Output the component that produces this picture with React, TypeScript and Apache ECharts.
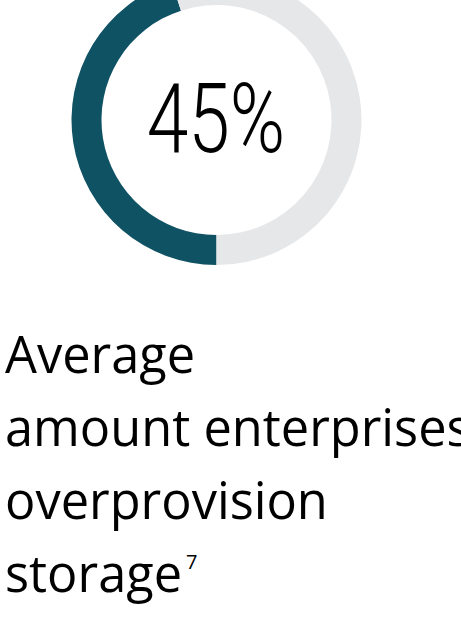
import React, { useEffect, useRef } from "react";
import * as echarts from "echarts";

const sliceNames = ["Overprovisioned", "Remainder"];
const sliceValues = [45, 55];
const sliceColors = ["#0f5264", "#e6e7e9"];
const centerLabel = "45%";
const captionLines = ["Average", "amount enterprises", "overprovision", "storage"];
const footnoteMark = "7";

export default function App() {
  const ref = useRef<HTMLDivElement>(null);
  useEffect(() => {
    document.body.style.margin = "0";
    const chart = echarts.init(ref.current!, null, { renderer: "svg" });
    chart.setOption({
      animation: false,
      backgroundColor: "#ffffff",
      series: [
        {
          type: "pie",
          center: [216.5, 120],
          radius: [115, 145],
          startAngle: 270,
          clockwise: true,
          silent: true,
          label: { show: false },
          labelLine: { show: false },
          data: sliceNames.map((n, i) => ({
            name: n,
            value: sliceValues[i],
            itemStyle: { color: sliceColors[i] },
          })),
        },
      ],
      graphic: [
        {
          type: "text",
          x: 216,
          y: 119,
          scaleX: 0.78,
          style: {
            text: centerLabel,
            fontFamily: "Roboto",
            fontWeight: 300,
            fontSize: 96,
            fill: "#000000",
            align: "center",
            verticalAlign: "middle",
          },
        },
        {
          type: "text",
          x: 5,
          y: 316,
          scaleX: 0.972,
          style: {
            text: captionLines.join("\n"),
            fontFamily: "Open Sans",
            fontWeight: 400,
            fontSize: 52,
            lineHeight: 73,
            fill: "#000000",
            align: "left",
            verticalAlign: "top",
          },
        },
        {
          type: "text",
          x: 186,
          y: 551,
          style: {
            text: footnoteMark,
            fontFamily: "Open Sans",
            fontWeight: 400,
            fontSize: 20,
            fill: "#000000",
            align: "left",
            verticalAlign: "top",
          },
        },
      ],
    });
    return () => chart.dispose();
  }, []);
  return (
    <div
      ref={ref}
      style={{ position: "absolute", left: 0, top: 0, width: 461, height: 644 }}
    />
  );
}
